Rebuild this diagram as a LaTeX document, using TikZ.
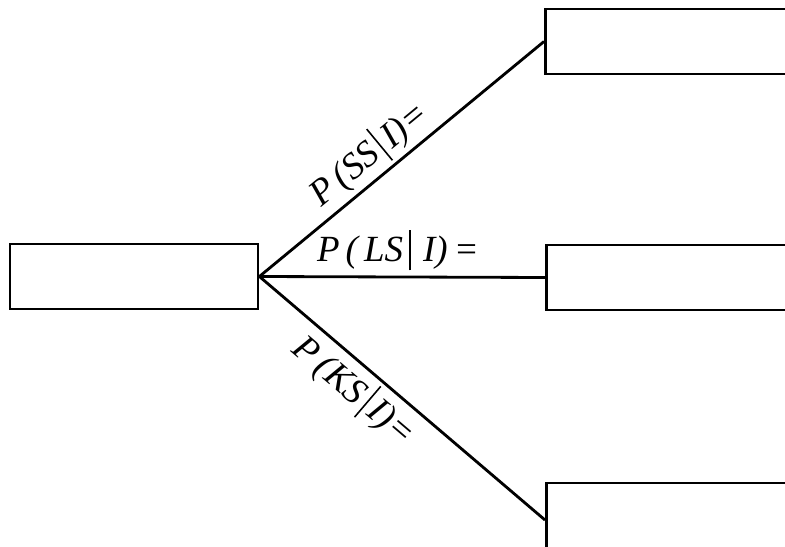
\documentclass[tikz,border=0pt]{standalone}
\usepackage{fontspec}
\setmainfont{Liberation Serif}
\usepackage{tikz}
\usetikzlibrary{positioning}

\newcommand{\givenbar}{\,\vrule width 0.9pt height 18pt depth 5pt\,}
\tikzset{
  box/.style={draw, line width=1.6pt, inner sep=0pt, minimum width=4.96cm, minimum height=1.3cm},
  branch/.style={line width=1.6pt},
  prob/.style={font=\fontsize{21}{24}\selectfont\itshape, inner sep=2pt}
}

\begin{document}
\begin{tikzpicture}[x=0.02cm,y=-0.02cm]
  \clip (0,0) rectangle (785,547);

  \node[box] (start) at (134,276.5) {};
  \node[box, anchor=west] (ss) at (544,41.5) {};
  \node[box, anchor=west] (ls) at (545,277.5) {};
  \node[box, anchor=west, minimum height=1.48cm] (ks) at (545,520) {};

  \draw[branch] (start.east) -- node[prob, sloped, above, pos=0.44] {P\,(SS\givenbar I)=} (ss.west);
  \draw[branch] (start.east) -- node[prob, above=1pt, pos=0.485] {P\,(\,LS\givenbar\,I)\,=} (ls.west);
  \draw[branch] (start.east) -- node[prob, sloped, below, pos=0.39] {P\,(KS\givenbar I)=} (ks.west);
\end{tikzpicture}
\end{document}
